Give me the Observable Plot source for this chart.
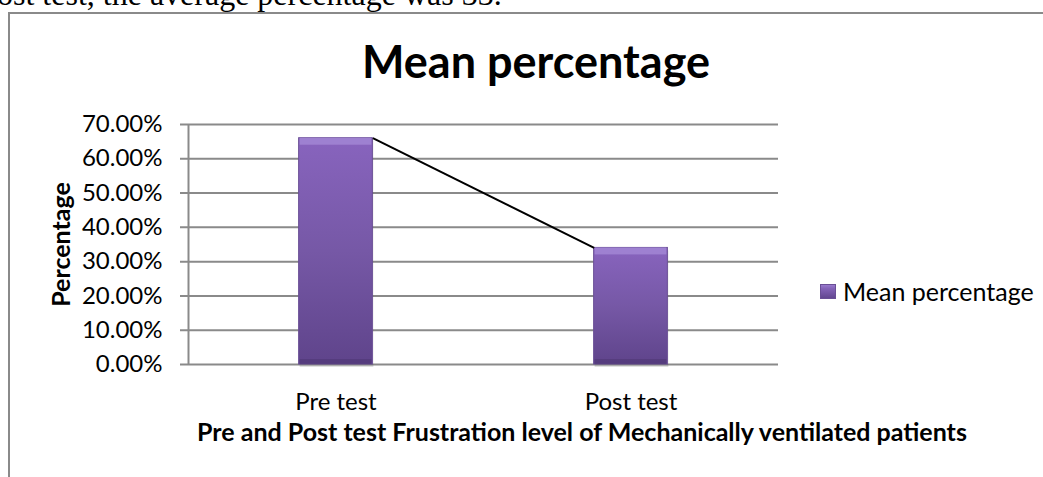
<!DOCTYPE html>
<html>
<head>
<meta charset="utf-8">
<script src="https://cdn.jsdelivr.net/npm/d3@7"></script>
<script src="https://cdn.jsdelivr.net/npm/@observablehq/plot@0.6"></script>
<style>
  html, body { margin: 0; padding: 0; background: #fff; }
  body { width: 1043px; height: 477px; position: relative; overflow: hidden; font-family: Lato, sans-serif; }
  #chart { position: absolute; left: 0; top: 0; }
  .abs { position: absolute; white-space: nowrap; color: #000; }
  #topline { left: -3px; top: -26px; font-family: "Liberation Serif", serif; font-size: 32px; line-height: 40px; }
  #frame { left: 8px; top: 12px; width: 1100px; height: 500px; border-top: 2px solid #8a8a8a; border-left: 2px solid #8a8a8a; }
  #title { left: 0; width: 1072px; text-align: center; top: 35px; font-size: 45px; font-weight: bold; line-height: 52px; }
  #xtitle { left: 0; width: 1164px; text-align: center; top: 416px; font-size: 25px; font-weight: bold; line-height: 30px; }
  #legend { left: 820px; top: 276px; font-size: 25px; line-height: 30px; display: flex; align-items: center; }
  #legend .sw { width: 16px; height: 15px; margin-right: 7px; background: linear-gradient(#9d80d2, #8463b8 30%, #5f448c); box-shadow: inset 0 0 0 1px #6a4f96; }
</style>
</head>
<body>
<div id="frame" class="abs"></div>
<div id="topline" class="abs">ost test, the average percentage was 33.</div>
<div id="chart"></div>
<div id="title" class="abs">Mean percentage</div>
<div id="xtitle" class="abs">Pre and Post test Frustration level of Mechanically ventilated patients</div>
<div id="legend" class="abs"><span class="sw"></span><span id="legendLabel"></span></div>
<script>
const categories = ["Pre test", "Post test"];
const values = [0.66, 0.34];
const seriesName = "Mean percentage";
const yTicks = [0, 0.1, 0.2, 0.3, 0.4, 0.5, 0.6, 0.7];
const yLabel = "Percentage";

document.getElementById("legendLabel").textContent = seriesName;

const half = 0.125; // half bar width in band units
const bars = categories.map((c, i) => ({cat: c, x1: i + 0.5 - half, x2: i + 0.5 + half, value: values[i]}));
const links = [];
for (let i = 0; i + 1 < bars.length; i++) {
  links.push({x1: bars[i].x2, y1: bars[i].value, x2: bars[i + 1].x1, y2: bars[i + 1].value});
}

function defs() {
  const ns = "http://www.w3.org/2000/svg";
  const d = document.createElementNS(ns, "defs");
  const g = document.createElementNS(ns, "linearGradient");
  g.setAttribute("id", "barGrad");
  g.setAttribute("x1", "0"); g.setAttribute("y1", "0");
  g.setAttribute("x2", "0"); g.setAttribute("y2", "1");
  [["0", "#8864be"], ["0.5", "#7658a6"], ["1", "#5f448b"]].forEach(([o, c]) => {
    const s = document.createElementNS(ns, "stop");
    s.setAttribute("offset", o); s.setAttribute("stop-color", c);
    g.appendChild(s);
  });
  d.appendChild(g);
  return d;
}

const chart = Plot.plot({
  width: 1043,
  height: 477,
  marginLeft: 188,
  marginRight: 265,
  marginTop: 124,
  marginBottom: 113,
  style: {fontFamily: "Lato, sans-serif", fontSize: "24px", color: "#000", background: "transparent"},
  x: {type: "linear", domain: [0, categories.length]},
  y: {domain: [0, 0.7]},
  marks: [
    defs,
    Plot.ruleY(yTicks, {stroke: "#8a8a8a", strokeWidth: 2, insetLeft: -8}),
    Plot.ruleX([0], {stroke: "#8a8a8a", strokeWidth: 2}),
    Plot.axisY({ticks: yTicks, tickFormat: d3.format(".2%"), tickSize: 0, tickPadding: 26, fontSize: 24, label: null}),
    Plot.axisX({ticks: categories.map((c, i) => i + 0.5), tickFormat: v => categories[Math.floor(v)], tickSize: 0, tickPadding: 28, fontSize: 24, label: null}),
    Plot.text([yLabel], {frameAnchor: "left", dx: -127, rotate: -90, textAnchor: "middle", fontWeight: "bold", fontSize: 25}),
    // soft shadow under bars
    Plot.rectY(bars, {x1: "x1", x2: "x2", y1: 0, y2: "value", fill: "#000", fillOpacity: 0.12, dx: 1, dy: 3}),
    Plot.rectY(bars, {x1: "x1", x2: "x2", y1: 0, y2: "value", fill: "url(#barGrad)", stroke: "#6a4f96", strokeWidth: 1}),
    // bevel highlights
    Plot.rectY(bars, {x1: "x1", x2: "x2", y1: "value", y2: "value", insetBottom: -7, insetLeft: 1, insetRight: 1, fill: "#a488d6", fillOpacity: 0.8}),
    Plot.rectY(bars, {x1: "x1", x2: "x2", y1: 0, y2: 0, insetTop: -5, insetLeft: 1, insetRight: 1, fill: "#4e3775", fillOpacity: 0.6}),
    Plot.link(links, {x1: "x1", y1: "y1", x2: "x2", y2: "y2", stroke: "#000", strokeWidth: 2})
  ]
});
document.getElementById("chart").appendChild(chart);
</script>
</body>
</html>
